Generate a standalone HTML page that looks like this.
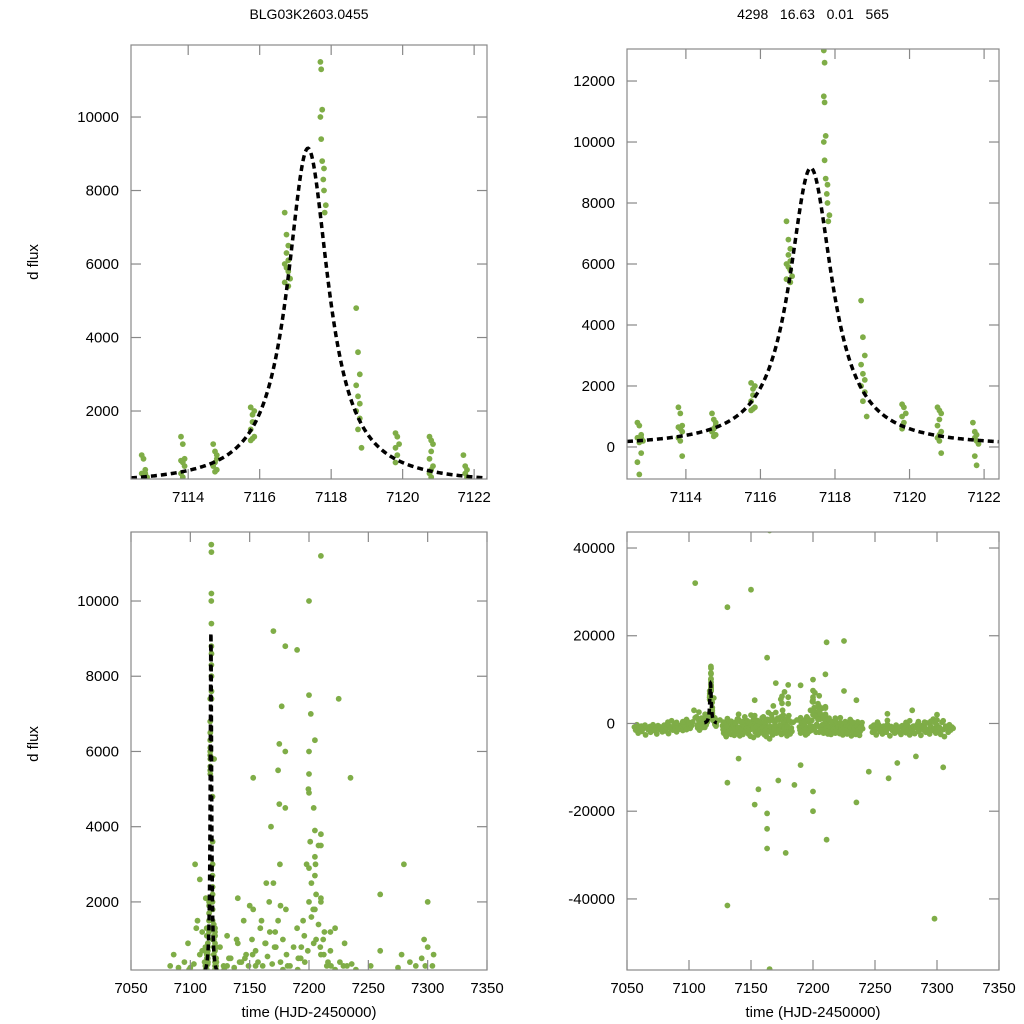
<!DOCTYPE html>
<html><head><meta charset="utf-8"><style>
html,body{margin:0;padding:0;background:#fff;width:1024px;height:1024px;overflow:hidden;}
svg{display:block;font-family:"Liberation Sans",sans-serif;}
</style></head><body>
<svg id="fig" width="1024" height="1024" viewBox="0 0 1024 1024">
<text x="309" y="19" font-size="14" text-anchor="middle">BLG03K2603.0455</text>
<text x="813" y="19" font-size="14" text-anchor="middle" xml:space="preserve">4298   16.63   0.01   565</text>
<text transform="translate(38,262) rotate(-90)" font-size="15" text-anchor="middle">d flux</text>
<text transform="translate(38,744) rotate(-90)" font-size="15" text-anchor="middle">d flux</text>
<text x="309" y="1017" font-size="15" text-anchor="middle">time (HJD-2450000)</text>
<text x="813" y="1017" font-size="15" text-anchor="middle">time (HJD-2450000)</text>
</svg>
<script>
// peak-night observations
const peakT=[7112.7,7112.75,7112.8,7112.8,7112.85,7112.7,7112.75,7112.8,7112.7,7112.75,
7113.8,7113.85,7113.9,7113.8,7113.85,7113.9,7113.8,7113.85,7113.9,
7114.7,7114.75,7114.8,7114.8,7114.75,7114.7,7114.8,7114.75,
7115.75,7115.8,7115.8,7115.75,7115.85,7115.8,7115.75,7115.85,
7116.7,7116.75,7116.8,7116.75,7116.8,7116.7,7116.75,7116.8,7116.85,7116.7,7116.8,
7117.7,7117.72,7117.75,7117.7,7117.72,7117.75,7117.8,7117.78,7117.8,7117.85,7117.82,7117.72,7117.7,
7118.7,7118.75,7118.8,7118.7,7118.75,7118.8,7118.7,7118.8,7118.75,7118.85,
7119.8,7119.85,7119.9,7119.8,7119.85,7119.8,
7120.75,7120.8,7120.85,7120.8,7120.75,7120.85,7120.8,7120.75,7120.8,7120.85,
7121.7,7121.75,7121.8,7121.75,7121.8,7121.85,7121.75,7121.8];
const peakF=[800,700,400,300,200,300,150,-200,-500,-900,
1300,1100,700,650,600,500,300,200,-300,
1100,900,800,700,600,500,400,350,
2100,1900,1700,1500,1300,1250,1200,2000,
7400,6800,6500,6300,6100,6000,5900,5800,5600,5500,5400,
11500,11300,10200,10000,9400,8800,8600,8300,8000,7600,7400,12600,13000,
4800,3600,3000,2700,2400,2200,2000,1800,1500,1000,
1400,1300,1100,1000,800,600,
1300,1200,1100,900,700,500,400,300,200,-200,
800,500,400,300,200,100,-300,-600];
// season baseline
const bandT=[7056,7057,7058,7059,7060,7061.5,7062,7063,7064.5,7065,7066,7067,7068.5,7069,7070,7071,7072,7073.5,7074,7075,7076,7077,7078.5,7079,7080,7081,7082,7083.5,7084,7085,7086,7087,7088.5,7089,7090,7091,7092,7093.5,7094,7095,7096,7097,7098,7099,7100,7101,7102,
7106,7106.5,7107,7108,7108.5,7109,7110,7110.5,7111,7112,
7127,7128,7129,7130,7131,7132,7133,7134,7135,7136,7137,7138,7139,7140,7141,7142,7143,7144,7145,7146,7147,7148,7149,7150,7151,7152,7153,7154,7155,7156,7157,7158,7159,7160,7161,7162,7163,7164,7165,7166,7167,7168,7169,7170,7171,7172,7173,7174,7175,7176,7177,7178,7179,7180,7181,7182,7183,
7127.5,7128.5,7129.5,7130.5,7131.5,7132.5,7133.5,7134.5,7135.5,7136.5,7137.5,7138.5,7139.5,7140.5,7141.5,7142.5,7143.5,7144.5,7145.5,7146.5,7147.5,7148.5,7149.5,7150.5,7151.5,7152.5,7153.5,7154.5,7155.5,7156.5,7157.5,7158.5,7159.5,7160.5,7161.5,7162.5,7163.5,7164.5,7165.5,7166.5,7167.5,7168.5,7169.5,7170.5,7171.5,7172.5,7173.5,7174.5,7175.5,7176.5,7177.5,7178.5,7179.5,7180.5,7181.5,7182.5,
7189,7190,7191,7192,7193,7194,7195,7196,7197,7198,7199,7200,7201,7202,7203,7204,7205,7206,7207,7208,7209,7210,7211,7212,7213,7214,7215,7216,7217,7218,7219,7220,7221,7222,7223,7224,7225,7226,7227,7228,7229,7230,7231,7232,7233,7234,7235,7236,7237,7238,7239,7240,
7189.5,7190.5,7191.5,7192.5,7193.5,7194.5,7195.5,7196.5,7197.5,7198.5,7199.5,7200.5,7201.5,7202.5,7203.5,7204.5,7205.5,7206.5,7207.5,7208.5,7209.5,7210.5,7211.5,7212.5,7213.5,7214.5,7215.5,7216.5,7217.5,7218.5,7219.5,7220.5,7221.5,7222.5,7223.5,7224.5,7225.5,7226.5,7227.5,7228.5,7229.5,7230.5,7231.5,7232.5,7233.5,7234.5,7235.5,7236.5,7237.5,7238.5,7239.5,
7247,7248,7249,7250,7251,7252,7253,7254,7255,7256,7257,7258,7259,7260,7261,7262,7263,7264,7265,7266,7267,7268,7269,7270,7271,7272,7273,7274,7275,7276,7277,7278,7279,7280,7281,7282,7283,7284,7285,7286,7287,7288,7289,7290,7291,7292,7293,7294,7295,7296,7297,7298,7299,7300,7301,7302,7303,7304,7305,7306,7307,7308,7309,7310,7311,7312,7313];
const bandF=[-800,-1500,-300,-2200,-1000,-600,-1800,-1200,-400,-2600,-900,-1400,-700,-2000,-1100,-300,-1600,-900,-2400,-500,-1300,-800,-1900,-1100,-400,-1700,-1000,-2300,-600,-1200,-800,-1500,-200,-1100,-1900,-700,-1300,-400,-1000,-1600,-300,-900,-1400,200,-700,-1100,-500,
1500,-400,-1000,600,-1500,-700,1200,-300,-900,400,
-500,-2200,-1000,-3000,300,-1500,-800,-2500,-200,-1200,-1800,-600,1000,-1400,-2800,-900,-300,-2000,-1100,500,-1600,-2400,-700,-1300,-200,-3200,-900,-1700,300,-1100,-2200,-600,-1500,1500,-2600,-400,-1200,2500,-3500,-800,-1800,4000,-500,-1300,-2000,800,-1000,5500,-2300,-700,-1500,200,-2800,-900,-1400,300,-1800,
-1400,200,-2600,-700,-1900,500,-2300,-1100,-400,-2700,-100,-1600,-900,-2100,400,-1300,-2500,-600,-1800,-1000,100,-1500,-2900,-400,-1100,600,-2000,-600,-2600,-100,-1400,-2100,-800,-200,-1600,-3000,900,-1900,-700,2000,-2600,-1100,-300,-2200,1200,-1600,-400,-2500,3000,-1200,-200,-2000,-700,1800,-2400,-1000,
-800,-2200,500,-1500,-300,-2600,1500,-1000,-1800,3000,-600,6000,-1400,2500,-200,4500,-2000,1000,-800,3500,-1500,2000,-300,-2400,1200,-1000,-1700,400,-600,-2200,-1100,-300,-1900,200,-1200,-2600,-500,-1500,-900,-2000,300,-1300,-2800,-700,-1400,-200,-2100,-1000,-600,-1800,-400,-1200,
-1500,200,-1900,-700,800,-1200,-2300,400,-500,-1600,5000,-900,7000,-2000,1800,-700,3000,-1500,-300,-2200,800,-1000,-1800,600,-700,-2500,-200,-1300,-2000,300,-1600,-800,-2300,-1100,-400,-1900,-1000,-300,-2400,-600,-1500,-900,-200,-2000,-1100,-2500,-500,-1500,-2700,-900,200,
-800,-2000,-400,-1500,-2600,-1000,-300,-1800,-1200,-2400,-600,-1400,-2000,-200,-1100,-2800,-700,-1600,-1000,-2200,-400,-1300,-1900,-800,-2500,-500,-1500,-1100,-2100,-300,-1400,-2600,-900,-1700,-600,-2300,-1000,-200,-1800,-1200,-2700,-500,-1500,-900,-2000,100,-1300,-2400,-700,-1600,1000,-1100,-2200,-400,-1800,-900,-2500,300,-1400,-3000,-600,-1200,-2000,-300,-1500,-800,-1100];
// scattered points
const scatT=[7210,7200,7170,7190,7180,7177,7200,7225,7175,7205,7180,7120,7200,7235,7153,7200,7175,7180,7205,7210,7201,7210,7205,7104,7280,7108,7170,7200,7205,7113,7210,7300,7140,7260,7150,7200,7205,7153,7176,7218,
7083,7086,7090,7095,7098,7100,7103,7105,7110,7122,7125,7128,7131,7134,7137,7140,7143,7145,7147,7149,7152,7155,7157,7159,7161,7163,7165,7167,7169,7171,7174,7176,7178,7181,7184,7187,7190,7193,7196,7199,7202,7204,7206,7208,7210,7212,7215,7218,7222,7226,7230,7232,7236,7252,7260,7275,7278,7285,7290,7295,7298,7300,7305,
7105,7150,7131,7165,7163,7211,7225,7131,7131,7153,7163,7163,7178,7163,7211,7235,7298,7165,7156,7185,7200,7261,7268,7200,7140,7190,7245,7283,7305,7172];
const scatF=[11200,10000,9200,8700,8800,7200,7500,7400,6200,6300,6000,5800,5400,5300,5300,4900,4600,4500,3900,3800,3600,3500,3200,3000,3000,2600,2500,2900,2700,2100,2100,2000,2100,2200,1900,2000,1800,1800,1900,1200,
300,600,250,400,900,250,350,1300,700,400,800,300,1100,500,250,900,400,1500,600,300,1000,700,400,1300,300,900,550,1200,350,800,1500,400,1000,600,300,800,1300,500,1100,700,1600,900,2200,1400,600,1000,300,700,1300,400,900,300,350,300,700,250,600,400,300,500,300,800,600,
32000,30500,26500,44000,15000,18500,18800,-13500,-41500,-18500,-24000,-28500,-29500,-20500,-26500,-18000,-44500,-56000,-15000,-14000,-15500,-12500,-9000,-20000,-8000,-9500,-11000,-7500,-10000,-13000];
// model parameters
const modelT0=7117.35, modelPeak=9150, modelW=0.7;
const xTicksTop=[7114,7116,7118,7120,7122];
const xTicksBot=[7050,7100,7150,7200,7250,7300,7350];
const yTicksTL=[2000,4000,6000,8000,10000];
const yTicksTR=[0,2000,4000,6000,8000,10000,12000];
const yTicksBL=[2000,4000,6000,8000,10000];
const yTicksBR=[-40000,-20000,0,20000,40000];

const NS="http://www.w3.org/2000/svg";
const svg=document.getElementById('fig');
function mk(tag,attrs,parent){const e=document.createElementNS(NS,tag);for(const k in attrs)e.setAttribute(k,attrs[k]);(parent||svg).appendChild(e);return e;}

function panel(id,box,xr,yr,xt,yt,sets,modelRange){
  const [x0,x1,y0,y1]=box;
  const sx=v=>x0+(v-xr[0])/(xr[1]-xr[0])*(x1-x0);
  const sy=v=>y1-(v-yr[0])/(yr[1]-yr[0])*(y1-y0);
  const g=mk('g',{});
  
  
  const cp=mk('clipPath',{id:'c'+id},g);
  mk('rect',{x:x0,y:y0,width:x1-x0,height:y1-y0},cp);
  const pts=mk('g',{'clip-path':'url(#c'+id+')',fill:'#7fad47'},g);
  
  
  const ylo=yr[0]-(yr[1]-yr[0])*0.01, yhi=yr[1]+(yr[1]-yr[0])*0.01;
  sets.forEach(([T,F])=>{for(let i=0;i<T.length;i++){
    if(T[i]<xr[0]||T[i]>xr[1]||F[i]<ylo||F[i]>yhi) continue;
    const c=mk('circle',{cx:sx(T[i]).toFixed(1),cy:sy(F[i]).toFixed(1),r:2.9},pts);
    
    
  }});
  let d='';
  for(let i=0;i<=400;i++){const t=modelRange[0]+(modelRange[1]-modelRange[0])*i/400;
    const f=Math.max(yr[0],Math.min(yr[1],modelPeak/(1+Math.pow((t-modelT0)/modelW,2))));
    d+=(i?'L':'M')+sx(t).toFixed(2)+','+sy(f).toFixed(2);}
  const m=mk('path',{d:d,fill:'none',stroke:'#000','stroke-width':3.5,'stroke-dasharray':'6,4','clip-path':'url(#c'+id+')'},g);
  
  
  const fr=mk('rect',{x:x0,y:y0,width:x1-x0,height:y1-y0,fill:'none',stroke:'#888','stroke-width':1.2},g);
  
  
  xt.forEach(v=>{const x=sx(v);
    mk('line',{x1:x,x2:x,y1:y1,y2:y1-10,stroke:'#888','stroke-width':1.2},g);
    mk('line',{x1:x,x2:x,y1:y0,y2:y0+10,stroke:'#888','stroke-width':1.2},g);
    const t=mk('text',{x:x,y:y1+23,'font-size':15,'text-anchor':'middle'},g);t.textContent=v;
    
    });
  yt.forEach(v=>{const y=sy(v);
    mk('line',{x1:x0,x2:x0+10,y1:y,y2:y,stroke:'#888','stroke-width':1.2},g);
    mk('line',{x1:x1,x2:x1-10,y1:y,y2:y,stroke:'#888','stroke-width':1.2},g);
    const t=mk('text',{x:x0-12,y:y+5,'font-size':15,'text-anchor':'end'},g);t.textContent=v;
    
    });
}
const all=[[bandT,bandF],[scatT,scatF],[peakT,peakF]];
panel('panel-top-left',[131,487,45,479],[7112.4,7122.36],[150,11960],xTicksTop,yTicksTL,[[peakT,peakF]],[7112.4,7122.36]);
panel('panel-top-right',[627,999,49,479],[7112.42,7122.4],[-1050,13050],xTicksTop,yTicksTR,[[peakT,peakF]],[7112.42,7122.4]);
panel('panel-bottom-left',[131,487,532,970],[7050,7350],[190,11835],xTicksBot,yTicksBL,all,[7112.4,7122.4]);
panel('panel-bottom-right',[627,999,532,970],[7050,7350],[-56200,43650],xTicksBot,yTicksBR,all,[7112.4,7122.4]);
</script>
</body></html>
